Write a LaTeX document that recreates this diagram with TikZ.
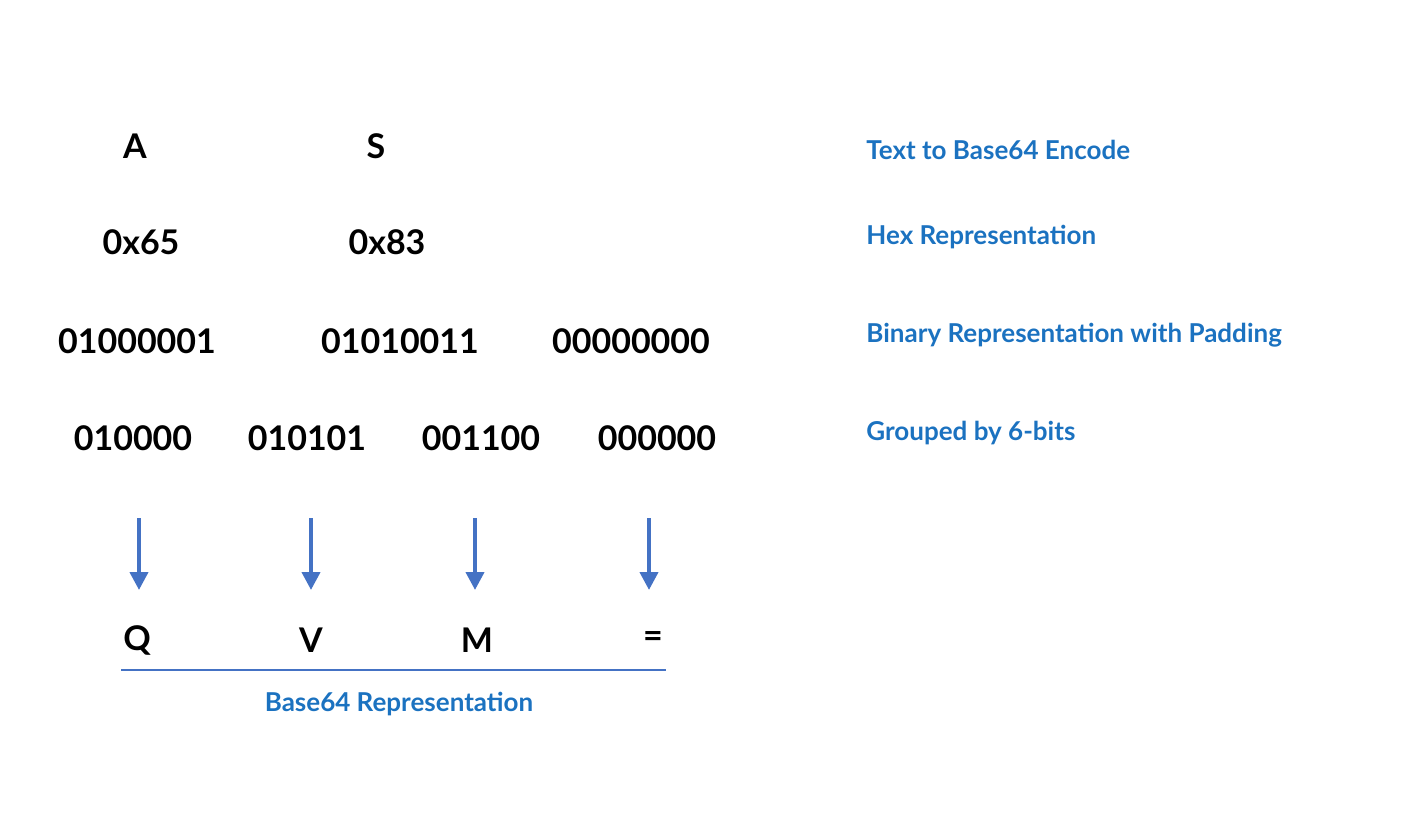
\documentclass[tikz,border=0pt]{standalone}
\usepackage{fontspec}
\setmainfont{Lato}
\usetikzlibrary{arrows.meta}
\definecolor{lbl}{HTML}{1B72C0}
\definecolor{arr}{HTML}{4472C4}
\begin{document}
\begin{tikzpicture}[x=0.5pt,y=-0.5pt,
  bit/.style={font=\fontsize{17}{20}\selectfont\bfseries, text=black, inner sep=0},
  lab/.style={font=\fontsize{13}{16}\selectfont\bfseries, text=lbl, inner sep=0, anchor=west},
  arrw/.style={draw=arr, line width=2pt, -{Triangle[length=9pt,width=9pt]}}]
\useasboundingbox (0,0) rectangle (1416,818);
\node[bit] (a) at (135,146) {A};
\node[bit] (s) at (376,146) {S};
\node[bit] (h1) at (141,242) {0x65};
\node[bit] (h2) at (387,242) {0x83};
\node[bit] (b1) at (137,341) {01000001};
\node[bit] (b2) at (400,341) {01010011};
\node[bit] (b3) at (631,341) {00000000};
\node[bit] (g1) at (133,438) {010000};
\node[bit] (g2) at (307,438) {010101};
\node[bit] (g3) at (481,438) {001100};
\node[bit] (g4) at (657,438) {000000};
\coordinate (t1) at (139,518); \coordinate (e1) at (139,590);
\coordinate (t2) at (311,518); \coordinate (e2) at (311,590);
\coordinate (t3) at (475,518); \coordinate (e3) at (475,590);
\coordinate (t4) at (649,518); \coordinate (e4) at (649,590);
\foreach \i in {1,...,4} \draw[arrw] (t\i) -- (e\i);
\node[bit] (q) at (137,640) {Q};
\node[bit] (v) at (311,640) {V};
\node[bit] (m) at (477,640) {M};
\node[bit] (eq) at (653,640) {=};
\coordinate (l1) at (121,670); \coordinate (l2) at (666,670);
\draw[arr, line width=1pt] (l1) -- (l2);
\node[lab, anchor=center] (base) at (399,704) {Base64 Representation};
\node[lab] (t) at (866,150) {Text to Base64 Encode};
\node[lab] (hx) at (866,237) {Hex Representation};
\node[lab] (bn) at (866,335) {Binary Representation with Padding};
\node[lab] (gb) at (866,433) {Grouped by 6-bits};
\end{tikzpicture}
\end{document}
